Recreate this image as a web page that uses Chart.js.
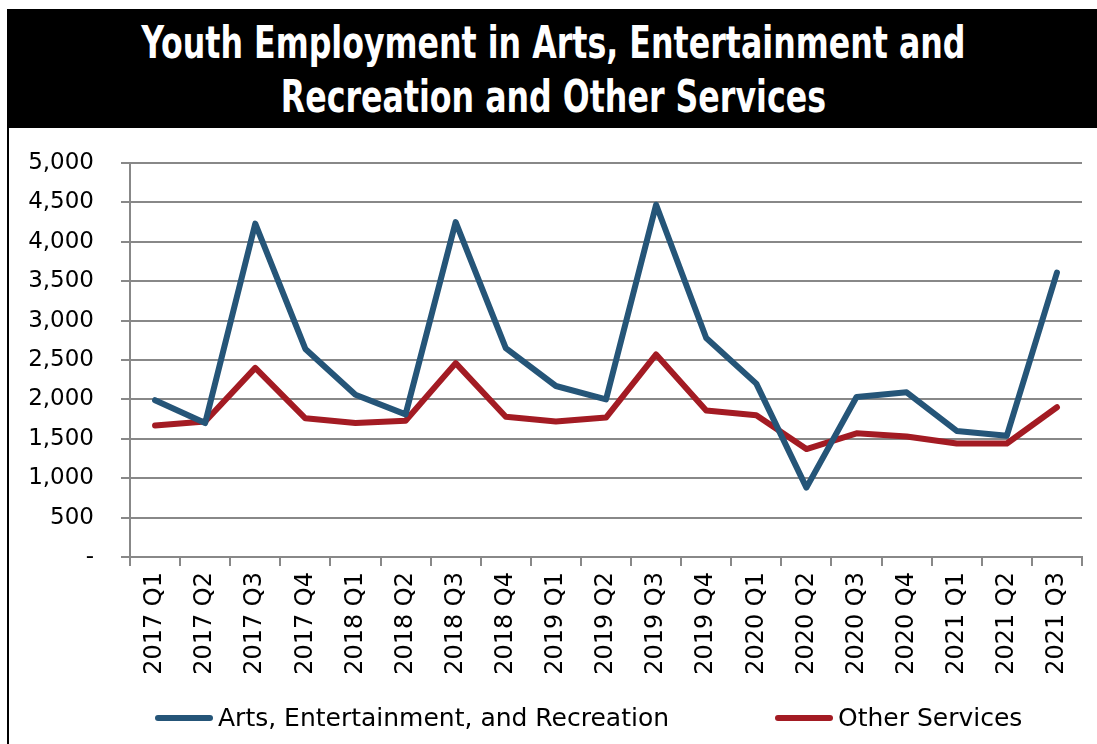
<!DOCTYPE html>
<html>
<head>
    <title>Youth Employment</title>
    <script src="https://cdn.jsdelivr.net/npm/chart.js"></script>
    <style>
        body { margin: 0; background: #fff; width: 1097px; height: 744px; overflow: hidden; position: relative; }
        #title {
            position: absolute; left: 7px; top: 9px; width: 1090px; height: 119px;
            background: #000; color: #fff; text-align: center; overflow: hidden;
        }
        #title div {
            font-family: "DejaVu Sans Condensed", "DejaVu Sans", sans-serif;
            font-weight: bold; font-size: 44px; line-height: 54px; padding-top: 7px;
            transform: scaleX(0.8); transform-origin: 552px 0; white-space: nowrap;
        }
        #border { position: absolute; left: 7px; top: 128px; width: 2px; height: 616px; background: #000; }
        #wrap { position: absolute; left: 10px; top: 128px; width: 1087px; height: 616px; }
        #legend {
            position: absolute; top: 703px; left: 0; width: 1097px; height: 30px;
            font-family: "DejaVu Sans", sans-serif; font-size: 25px; color: #000;
        }
        .item { position: absolute; top: 0; white-space: nowrap; line-height: 30px; }
        .swatch { display: inline-block; width: 58px; height: 6px; border-radius: 3px; vertical-align: middle; margin-right: 5px; position: relative; top: -1px; }
    </style>
</head>
<body>
    <div id="title"><div>Youth Employment in Arts, Entertainment and<br>Recreation and Other Services</div></div>
    <div id="border"></div>
    <div id="wrap"><canvas id="chart"></canvas></div>
    <div id="legend"></div>

    <script>
        const quarters = ['2017 Q1', '2017 Q2', '2017 Q3', '2017 Q4', '2018 Q1', '2018 Q2', '2018 Q3', '2018 Q4',
            '2019 Q1', '2019 Q2', '2019 Q3', '2019 Q4', '2020 Q1', '2020 Q2', '2020 Q3', '2020 Q4',
            '2021 Q1', '2021 Q2', '2021 Q3'];
        const arts = [1990, 1700, 4230, 2640, 2060, 1810, 4250, 2650, 2170, 2000, 4470, 2780, 2200, 880, 2030, 2090, 1600, 1540, 3610];
        const otherServices = [1670, 1720, 2400, 1760, 1700, 1730, 2460, 1780, 1720, 1770, 2570, 1860, 1800, 1370, 1570, 1530, 1440, 1440, 1900];
        const legendLeft = [155, 775];

        const gridColor = '#888888';
        const font = { family: 'DejaVu Sans', size: 23 };

        const ctx = document.getElementById('chart').getContext('2d');
        const chart = new Chart(ctx, {
            type: 'line',
            data: {
                labels: quarters,
                datasets: [{
                    label: 'Arts, Entertainment, and Recreation',
                    data: arts,
                    borderColor: '#255578',
                    backgroundColor: '#255578',
                    borderWidth: 6,
                    pointRadius: 0,
                    tension: 0,
                    borderCapStyle: 'round',
                    borderJoinStyle: 'round'
                }, {
                    label: 'Other Services',
                    data: otherServices,
                    borderColor: '#A31B23',
                    backgroundColor: '#A31B23',
                    borderWidth: 6,
                    pointRadius: 0,
                    tension: 0,
                    borderCapStyle: 'round',
                    borderJoinStyle: 'round'
                }]
            },
            options: {
                responsive: true,
                maintainAspectRatio: false,
                animation: false,
                layout: { padding: { top: 35, left: 0, right: 15, bottom: 47 } },
                plugins: {
                    legend: { display: false },
                    tooltip: { enabled: false }
                },
                scales: {
                    x: {
                        offset: true,
                        afterFit: (scale) => { scale.height = 140; },
                        grid: { offset: true, drawOnChartArea: false, color: gridColor, lineWidth: 2, tickLength: 9 },
                        border: { color: gridColor, width: 2 },
                        ticks: { font: { family: 'DejaVu Sans', size: 24 }, color: '#000', minRotation: 90, maxRotation: 90, padding: 6, autoSkip: false }
                    },
                    y: {
                        min: 0,
                        max: 5000,
                        afterFit: (scale) => {
                            scale.width = 120;
                            // tick padding is horizontal here; don't let it push the plot down
                            scale.paddingTop = 14;
                            scale.paddingBottom = 14;
                        },
                        grid: { color: gridColor, lineWidth: 2, tickLength: 9 },
                        border: { color: gridColor, width: 2 },
                        ticks: {
                            stepSize: 500,
                            font: font,
                            color: '#000',
                            padding: 27,
                            callback: (v) => v === 0 ? '-' : v.toLocaleString('en-US')
                        }
                    }
                }
            }
        });

        // legend built from the datasets
        const legend = document.getElementById('legend');
        chart.data.datasets.forEach((ds, i) => {
            const item = document.createElement('div');
            item.className = 'item';
            item.style.left = legendLeft[i] + 'px';
            const sw = document.createElement('span');
            sw.className = 'swatch';
            sw.style.background = ds.borderColor;
            item.appendChild(sw);
            item.appendChild(document.createTextNode(ds.label));
            legend.appendChild(item);
        });
    </script>
</body>
</html>
